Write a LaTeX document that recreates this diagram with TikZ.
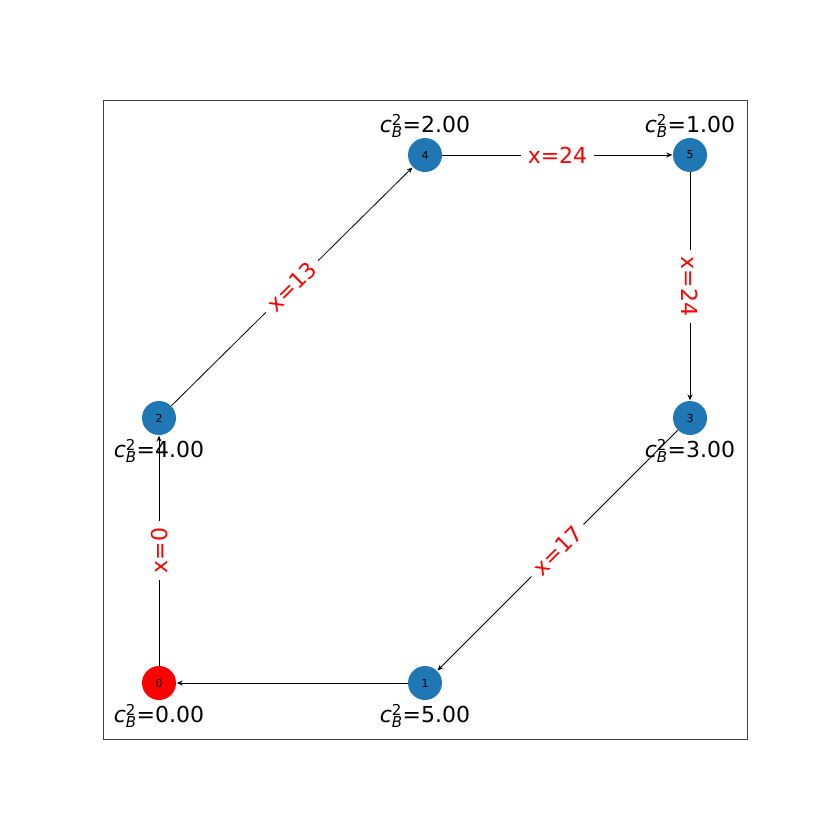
\documentclass[tikz,border=0pt]{standalone}
\usepackage{fontspec}
\setmainfont{DejaVu Sans}
\usetikzlibrary{arrows.meta}
\definecolor{nblue}{HTML}{1F77B4}
\tikzset{
  vert/.style={circle, fill=#1, minimum size=34pt, inner sep=0pt, font=\fontsize{11}{11}\selectfont},
  cblabel/.style={font=\fontsize{22}{22}\selectfont, inner sep=0pt},
  edge/.style={draw=black, line width=0.8pt, -{Stealth[length=6pt,width=5pt]}, shorten >=0.5pt},
  elab/.style={font=\fontsize{22}{22}\selectfont, text=red, fill=white, inner xsep=7pt, inner ysep=3pt},
}
\newcommand{\cbval}[1]{\textit{c}$^{\mbox{\fontsize{15}{15}\selectfont 2}}_{\mbox{\fontsize{15}{15}\selectfont\itshape B}}$=#1}
\begin{document}
\begin{tikzpicture}[x=1pt,y=-1pt]
\useasboundingbox (0,0) rectangle (830,830);
\draw[draw=black!75, line width=0.8pt] (103,100) rectangle (747,739);
\node[vert=red] (n0) at (159,683) {0};
\node[vert=nblue] (n1) at (425,683) {1};
\node[vert=nblue] (n2) at (159,418) {2};
\node[vert=nblue] (n3) at (690,418) {3};
\node[vert=nblue] (n4) at (425,155) {4};
\node[vert=nblue] (n5) at (690,155) {5};
\draw[edge] (n1) -- (n0);
\draw[edge] (n0) -- node[elab, rotate=90] (l02) {x=0} (n2);
\draw[edge] (n2) -- node[elab, rotate=45] (l24) {x=13} (n4);
\draw[edge] (n4) -- node[elab] (l45) {x=24} (n5);
\draw[edge] (n5) -- node[elab, rotate=-90] (l53) {x=24} (n3);
\draw[edge] (n3) -- node[elab, rotate=45] (l31) {x=17} (n1);
\node[cblabel] (c0) at (159,716) {\cbval{0.00}};
\node[cblabel] (c1) at (425,716) {\cbval{5.00}};
\node[cblabel] (c2) at (159,451) {\cbval{4.00}};
\node[cblabel] (c3) at (690,451) {\cbval{3.00}};
\node[cblabel] (c4) at (425,126) {\cbval{2.00}};
\node[cblabel] (c5) at (690,126) {\cbval{1.00}};
\end{tikzpicture}
\end{document}
